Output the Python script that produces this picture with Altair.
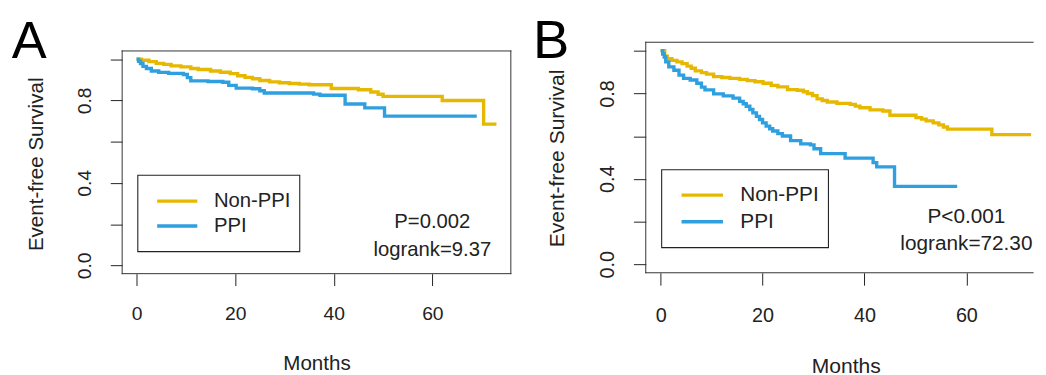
import altair as alt
import pandas as pd

FONT = "Liberation Sans"
INK = "#222222"
groups = ["Non-PPI", "PPI"]
colors = ["#E7B800", "#2E9FDF"]
x_ticks = [0, 20, 40, 60]
y_ticks = [0.0, 0.2, 0.4, 0.6, 0.8, 1.0]

# ---------------- Panel A data ----------------
A_non_t = [0, 1.0, 2.5, 4.0, 5.5, 7.0, 9.0, 11.0, 12.5, 15.0, 17.0, 19.0, 20.5, 22.0, 23.5,
           25.0, 27.0, 29.0, 31.0, 33.0, 35.0, 39.5, 45.0, 47.5, 49.0, 50.0, 62.0, 70.4, 73.0]
A_non_s = [1.000, 0.995, 0.988, 0.980, 0.975, 0.968, 0.963, 0.955, 0.950, 0.943, 0.937, 0.930,
           0.920, 0.912, 0.905, 0.897, 0.890, 0.886, 0.882, 0.879, 0.876, 0.858, 0.852, 0.841,
           0.830, 0.820, 0.800, 0.685, 0.685]
A_ppi_t = [0, 0.4, 0.8, 1.3, 2.0, 3.0, 4.5, 6.5, 9.5, 10.3, 11.0, 14.5, 17.5, 18.7, 20.2, 23.5,
           25.0, 25.9, 35.9, 37.2, 42.3, 46.3, 50.3, 69.0]
A_ppi_s = [1.000, 0.990, 0.979, 0.965, 0.955, 0.943, 0.936, 0.931, 0.926, 0.911, 0.895, 0.892,
           0.888, 0.873, 0.860, 0.857, 0.847, 0.836, 0.831, 0.825, 0.783, 0.764, 0.724, 0.724]
A_xlim = [-2.92, 75.92]
A_ylim = [-0.04, 1.04]
A_box_xmax = 75.92
A_legend_box = [0.25, 33.1, 0.067, 0.437]
A_legend_line_x = [4.18, 12.32]
A_legend_y = [0.312, 0.191]
A_legend_text_x = 15.7
A_annot = ["P=0.002", "logrank=9.37"]
A_annot_x = 60
A_annot_y = [0.181, 0.044]

# ---------------- Panel B data ----------------
B_non_t = [0, 0.8, 1.3, 2.2, 3.2, 4.2, 5.2, 6.0, 6.8, 8.0, 9.0, 10.4, 12.0, 13.6, 15.5, 17.0,
           18.5, 20.1, 21.7, 23.0, 24.9, 26.8, 28.0, 28.8, 29.8, 30.7, 31.7, 32.7, 34.6, 37.2,
           38.2, 39.1, 41.1, 43.6, 45.0, 50.1, 51.2, 52.1, 53.5, 54.6, 55.5, 56.3, 65.0, 72.7]
B_non_s = [1.000, 0.975, 0.963, 0.955, 0.948, 0.940, 0.928, 0.918, 0.906, 0.898, 0.891, 0.879,
           0.875, 0.871, 0.866, 0.860, 0.855, 0.848, 0.838, 0.831, 0.818, 0.815, 0.808, 0.800,
           0.790, 0.775, 0.767, 0.760, 0.754, 0.749, 0.741, 0.733, 0.723, 0.718, 0.698, 0.687,
           0.680, 0.672, 0.662, 0.653, 0.643, 0.633, 0.607, 0.607]
B_ppi_t = [0, 0.4, 0.7, 1.0, 1.6, 2.6, 3.6, 4.5, 5.8, 7.1, 8.0, 8.7, 10.4, 12.3, 14.2, 15.5,
           16.2, 16.8, 17.5, 18.1, 18.8, 19.4, 20.0, 20.7, 21.4, 22.0, 23.0, 23.9, 25.5, 27.5,
           29.4, 30.1, 31.4, 36.2, 41.7, 42.4, 45.9, 58.2]
B_ppi_s = [1.000, 0.985, 0.971, 0.948, 0.925, 0.909, 0.886, 0.871, 0.863, 0.848, 0.830, 0.817,
           0.798, 0.789, 0.778, 0.763, 0.752, 0.740, 0.725, 0.709, 0.693, 0.678, 0.662, 0.647,
           0.635, 0.624, 0.612, 0.601, 0.579, 0.564, 0.559, 0.541, 0.518, 0.497, 0.476, 0.456,
           0.365, 0.365]
B_xlim = [-2.92, 75.92]
B_ylim = [-0.04, 1.04]
B_box_xmax = 73.1          # the reference is cropped here
B_legend_box = [0.20, 32.93, 0.078, 0.443]
B_legend_line_x = [4.10, 12.23]
B_legend_y = [0.324, 0.199]
B_legend_text_x = 15.63
B_annot = ["P<0.001", "logrank=72.30"]
B_annot_x = 60
B_annot_y = [0.195, 0.065]

W, H = 1038, 367

LAYOUT = {
    "A": dict(xr=[115.5, 508.7], yr=[266.6, 41.3], tick=12, lab=19.5, lpadx=19.5, lpady=20,
              tfs=20.8, xt=(312.1, 97.4), yt=(-81.0, 155.5), txt=20.5,
              letter="A", lx=3.7, ly=48.7, lfs=53, right=True),
    "B": dict(xr=[645.2, 1051.6], yr=[265.7, 32.5], tick=12.5, lab=20, lpadx=20.5, lpady=20.5,
              tfs=21.3, xt=(847.5, 100.6), yt=(-83.7, 149.5), txt=21,
              letter="B", lx=531.0, ly=48.0, lfs=55, right=False),
}
LINE_W = 3.4


def panel(key, non_t, non_s, ppi_t, ppi_s, xlim, ylim, box_xmax, leg_box, leg_x, leg_y,
          leg_tx, annot, annot_x, annot_y):
    L = LAYOUT[key]
    xs = alt.Scale(domain=xlim, range=L["xr"], nice=False, zero=False)
    ys = alt.Scale(domain=ylim, range=L["yr"], nice=False, zero=False)
    xa = alt.Axis(orient="bottom", offset=L["yr"][0] - H, values=x_ticks, format="d",
                  domain=False, grid=False, tickSize=L["tick"], tickColor=INK, tickWidth=1,
                  labelFont=FONT, labelFontSize=L["lab"], labelColor=INK,
                  labelPadding=L["lpadx"], labelFlush=False, labelOverlap=False,
                  labelBound=False,
                  title="Months", titleFont=FONT, titleFontSize=L["tfs"],
                  titleFontWeight="normal", titleColor=INK, titleX=L["xt"][0],
                  titleY=L["xt"][1], titleAlign="center", titleBaseline="alphabetic",
                  titleAngle=0)
    ya = alt.Axis(orient="left", offset=-L["xr"][0], values=y_ticks,
                  labelExpr="(round(datum.value*10)%4==0) ? format(datum.value, '.1f') : ''",
                  domain=False, grid=False, tickSize=L["tick"], tickColor=INK, tickWidth=1,
                  labelFont=FONT, labelFontSize=L["lab"], labelColor=INK,
                  labelAngle=270, labelAlign="center", labelBaseline="alphabetic",
                  labelPadding=L["lpady"], labelFlush=False, labelOverlap=False,
                  labelBound=False,
                  title="Event-free Survival", titleFont=FONT, titleFontSize=L["tfs"],
                  titleFontWeight="normal", titleColor=INK, titleX=L["yt"][0],
                  titleY=L["yt"][1], titleAngle=270, titleAlign="center",
                  titleBaseline="alphabetic")

    def X(f):
        return alt.X(f, type="quantitative", scale=xs, axis=xa)

    def Y(f):
        return alt.Y(f, type="quantitative", scale=ys, axis=ya)

    color = alt.Color("group:N", scale=alt.Scale(domain=groups, range=colors), legend=None)

    # frame
    fx0, fx1 = xlim[0], box_xmax
    fy0, fy1 = ylim
    rows = [dict(x=fx0, x2=fx0, y=fy0, y2=fy1),
            dict(x=fx0, x2=fx1, y=fy1, y2=fy1),
            dict(x=fx0, x2=fx1, y=fy0, y2=fy0)]
    if L["right"]:
        rows.append(dict(x=fx1, x2=fx1, y=fy0, y2=fy1))
    frame = alt.Chart(pd.DataFrame(rows)).mark_rule(
        color="#333333", strokeWidth=1, strokeCap="square").encode(
        x=X("x"), x2="x2", y=Y("y"), y2="y2")

    df_non = pd.DataFrame({"time": non_t, "surv": non_s, "group": groups[0]})
    df_ppi = pd.DataFrame({"time": ppi_t, "surv": ppi_s, "group": groups[1]})
    line_non = alt.Chart(df_non).mark_line(interpolate="step-after", strokeWidth=LINE_W).encode(
        x=X("time"), y=Y("surv"), color=color)
    line_ppi = alt.Chart(df_ppi).mark_line(interpolate="step-after", strokeWidth=LINE_W).encode(
        x=X("time"), y=Y("surv"), color=color)

    lbox = alt.Chart(pd.DataFrame([dict(x=leg_box[0], x2=leg_box[1], y=leg_box[2],
                                        y2=leg_box[3])])).mark_rect(
        fill="white", stroke=INK, strokeWidth=1.1).encode(
        x=X("x"), x2="x2", y=Y("y"), y2="y2")
    lline = alt.Chart(pd.DataFrame({"group": groups, "x": [leg_x[0]] * 2,
                                    "x2": [leg_x[1]] * 2, "y": leg_y})).mark_rule(
        strokeWidth=LINE_W).encode(x=X("x"), x2="x2", y=Y("y"), color=color)
    ltext = alt.Chart(pd.DataFrame({"label": groups, "x": [leg_tx] * 2, "y": leg_y})).mark_text(
        align="left", baseline="middle", font=FONT, fontSize=L["txt"], color=INK).encode(
        x=X("x"), y=Y("y"), text="label:N")
    atext = alt.Chart(pd.DataFrame({"label": annot, "x": [annot_x] * 2, "y": annot_y})).mark_text(
        align="center", baseline="alphabetic", font=FONT, fontSize=L["txt"], color=INK).encode(
        x=X("x"), y=Y("y"), text="label:N")
    letter = alt.Chart(pd.DataFrame({"t": [L["letter"]]})).mark_text(
        align="left", baseline="alphabetic", font=FONT, fontSize=L["lfs"], color="#000000").encode(
        x=alt.value(L["lx"]), y=alt.value(L["ly"]), text="t:N")

    return alt.layer(frame, line_non, line_ppi, lbox, lline, ltext, atext, letter)


pA = panel("A", A_non_t, A_non_s, A_ppi_t, A_ppi_s, A_xlim, A_ylim, A_box_xmax, A_legend_box,
           A_legend_line_x, A_legend_y, A_legend_text_x, A_annot, A_annot_x, A_annot_y)
pB = panel("B", B_non_t, B_non_s, B_ppi_t, B_ppi_s, B_xlim, B_ylim, B_box_xmax, B_legend_box,
           B_legend_line_x, B_legend_y, B_legend_text_x, B_annot, B_annot_x, B_annot_y)

chart = alt.layer(pA, pB).resolve_scale(x="independent", y="independent").properties(
    width=W, height=H, padding=0).configure_view(stroke="transparent")

chart.save("out.html", embed_options={"renderer": "svg", "actions": False})
